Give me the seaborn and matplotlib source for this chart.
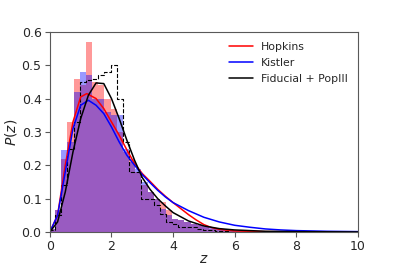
import numpy as np
import pandas as pd
import matplotlib
matplotlib.use("Agg")
import matplotlib.pyplot as plt
import seaborn as sns

# ---- data ----
bin_start = -0.03
bin_width = 0.2
hopkins_hist = [0.01, 0.065, 0.22, 0.33, 0.46, 0.44, 0.57, 0.45, 0.44, 0.40, 0.37, 0.30,
                0.24, 0.22, 0.18, 0.14, 0.12, 0.10, 0.09, 0.065, 0.04, 0.035, 0.03, 0.025,
                0.02, 0.015, 0.01, 0.008, 0.006, 0.004, 0.003, 0.002]
kistler_hist = [0.01, 0.066, 0.245, 0.27, 0.42, 0.48, 0.47, 0.40, 0.40, 0.36, 0.35, 0.35,
                0.25, 0.21, 0.19, 0.15, 0.12, 0.10, 0.07, 0.05, 0.04, 0.035, 0.03, 0.025,
                0.02, 0.018, 0.012, 0.01, 0.008, 0.006, 0.004, 0.002]
fiducial_hist = [0.005, 0.05, 0.14, 0.25, 0.33, 0.45, 0.455, 0.46, 0.47, 0.48, 0.50, 0.40,
                 0.27, 0.18, 0.18, 0.10, 0.10, 0.08, 0.055, 0.03, 0.025, 0.015, 0.015, 0.015,
                 0.01, 0.005, 0.005, 0.003, 0.002, 0.001, 0.0, 0.0]

hopkins_z = [0, 0.25, 0.5, 0.75, 1.0, 1.2, 1.5, 1.75, 2.0, 2.25, 2.5, 2.75, 3.0, 3.25, 3.5,
             3.75, 4.0, 4.25, 4.5, 4.75, 5.0, 5.25, 5.5, 6.0, 7.0, 8.0, 10.0]
hopkins_p = [0.0, 0.05, 0.2, 0.33, 0.405, 0.415, 0.40, 0.37, 0.33, 0.29, 0.246, 0.205, 0.175,
             0.152, 0.128, 0.107, 0.088, 0.07, 0.052, 0.036, 0.022, 0.013, 0.008, 0.003,
             0.001, 0.0005, 0.0]

kistler_z = [0, 0.25, 0.5, 0.75, 1.0, 1.25, 1.5, 1.75, 2.0, 2.25, 2.5, 2.75, 3.0, 3.25, 3.5,
             3.75, 4.0, 4.5, 5.0, 5.5, 6.0, 6.5, 7.0, 7.5, 8.0, 9.0, 10.0]
kistler_p = [0.0, 0.05, 0.18, 0.31, 0.38, 0.395, 0.38, 0.355, 0.315, 0.27, 0.23, 0.20, 0.172,
             0.148, 0.125, 0.105, 0.088, 0.064, 0.044, 0.030, 0.020, 0.014, 0.009, 0.006,
             0.004, 0.002, 0.001]

fiducial_z = [0, 0.25, 0.5, 0.75, 1.0, 1.25, 1.5, 1.75, 2.0, 2.25, 2.5, 2.75, 3.0, 3.25, 3.5,
              3.75, 4.0, 4.5, 5.0, 5.5, 6.0, 7.0, 8.0, 10.0]
fiducial_p = [0.0, 0.03, 0.12, 0.24, 0.34, 0.41, 0.447, 0.445, 0.40, 0.34, 0.275, 0.215,
              0.163, 0.128, 0.10, 0.078, 0.058, 0.033, 0.018, 0.01, 0.006, 0.002, 0.001, 0.0]

x_ticks = [0, 2, 4, 6, 8, 10]
y_ticks = [0.0, 0.1, 0.2, 0.3, 0.4, 0.5, 0.6]

# ---- figure ----
sns.set_style("ticks")
plt.rcParams['font.family'] = ['DejaVu Sans']
fig = plt.figure(figsize=(3.99, 2.66), dpi=100)
ax = fig.add_axes([0.125, 0.128, 0.772, 0.752])

n = len(hopkins_hist)
edges = [float(v) for v in bin_start + bin_width * np.arange(n + 1)]
centers = [e + bin_width / 2 for e in edges[:-1]]
hist_df = pd.DataFrame({"z": centers, "hopkins": hopkins_hist,
                        "kistler": kistler_hist, "fiducial": fiducial_hist})

sns.histplot(data=hist_df, x="z", weights="hopkins", bins=edges, color="red", alpha=0.4,
             linewidth=0, ax=ax)
sns.histplot(data=hist_df, x="z", weights="kistler", bins=edges, color="blue", alpha=0.4,
             linewidth=0, ax=ax)
sns.histplot(data=hist_df, x="z", weights="fiducial", bins=edges, element="step", fill=False,
             color="black", linestyle="--", linewidth=0.8, ax=ax)

sns.lineplot(x=hopkins_z, y=hopkins_p, color="red", linewidth=1.1, label="Hopkins", ax=ax)
sns.lineplot(x=kistler_z, y=kistler_p, color="blue", linewidth=1.1, label="Kistler", ax=ax)
sns.lineplot(x=fiducial_z, y=fiducial_p, color="black", linewidth=1.1,
             label="Fiducial + PopIII", ax=ax)

ax.set_xlim(0, 10)
ax.set_ylim(0, 0.6)
ax.set_xticks(x_ticks)
ax.set_yticks(y_ticks)
ax.set_xticklabels([str(t) for t in x_ticks])
ax.set_yticklabels([f"{t:.1f}" for t in y_ticks])
ax.tick_params(labelsize=9, length=3.5, width=0.8, color="0.35", pad=2.5)
ax.set_xlabel("$z$", fontsize=10, labelpad=-1)
ax.set_ylabel("$P(z)$", fontsize=10, labelpad=2)
for s in ax.spines.values():
    s.set_linewidth(0.8)
    s.set_color("0.35")

ax.legend(loc="upper right", frameon=False, fontsize=7.8, handlelength=2.2,
          borderaxespad=0.5, labelspacing=0.55, handletextpad=0.8)

fig.savefig("out.png", dpi=100)
